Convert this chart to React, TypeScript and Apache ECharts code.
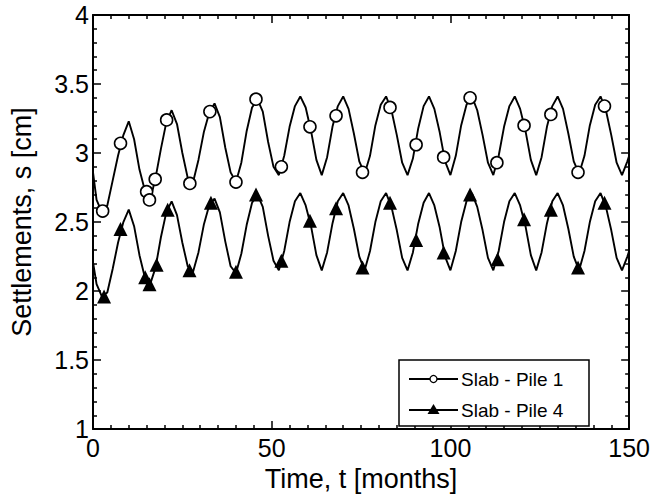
import React, { useEffect, useRef } from "react";
import * as echarts from "echarts";

const FONT = "'Liberation Sans', Arial, Helvetica, sans-serif";

const xTickValues = [0, 50, 100, 150];
const yRange = [1, 4];

const lineTime = [0, 1, 2.5, 4, 5.5, 7, 8.5, 10, 11.5, 13, 14.5, 16, 17.5, 19, 20.5, 22, 23.5, 25, 26.5, 28, 29.5, 31, 32.5, 34, 35.5, 37, 38.5, 40, 41.5, 43, 44.5, 46, 47.5, 49, 50.5, 52, 53.5, 55, 56.5, 58, 59.5, 61, 62.5, 64, 65.5, 67, 68.5, 70, 71.5, 73, 74.5, 76, 77.5, 79, 80.5, 82, 83.5, 85, 86.5, 88, 89.5, 91, 92.5, 94, 95.5, 97, 98.5, 100, 101.5, 103, 104.5, 106, 107.5, 109, 110.5, 112, 113.5, 115, 116.5, 118, 119.5, 121, 122.5, 124, 125.5, 127, 128.5, 130, 131.5, 133, 134.5, 136, 137.5, 139, 140.5, 142, 143.5, 145, 146.5, 148, 149.5, 150];

const pile1Line = [2.86, 2.66, 2.57, 2.62, 2.80, 2.98, 3.13, 3.23, 3.10, 2.88, 2.73, 2.66, 2.82, 3.03, 3.22, 3.31, 3.21, 3.00, 2.82, 2.79, 2.95, 3.15, 3.29, 3.36, 3.26, 3.04, 2.86, 2.79, 2.93, 3.16, 3.33, 3.39, 3.30, 3.08, 2.90, 2.84, 2.98, 3.19, 3.34, 3.41, 3.33, 3.16, 2.95, 2.84, 2.97, 3.19, 3.34, 3.41, 3.32, 3.14, 2.94, 2.85, 2.98, 3.20, 3.35, 3.41, 3.31, 3.13, 2.93, 2.84, 2.96, 3.18, 3.34, 3.41, 3.32, 3.15, 2.94, 2.84, 2.98, 3.20, 3.35, 3.41, 3.31, 3.13, 2.93, 2.84, 2.98, 3.19, 3.34, 3.41, 3.32, 3.16, 2.95, 2.84, 2.97, 3.19, 3.34, 3.41, 3.32, 3.14, 2.94, 2.85, 2.98, 3.20, 3.35, 3.41, 3.31, 3.13, 2.93, 2.84, 2.94, 2.98];

const pile4Line = [2.21, 2.05, 1.96, 1.99, 2.16, 2.35, 2.50, 2.59, 2.47, 2.26, 2.10, 2.05, 2.17, 2.39, 2.57, 2.65, 2.55, 2.35, 2.18, 2.14, 2.28, 2.48, 2.62, 2.67, 2.57, 2.36, 2.18, 2.13, 2.27, 2.48, 2.64, 2.70, 2.61, 2.40, 2.22, 2.15, 2.29, 2.50, 2.65, 2.71, 2.62, 2.47, 2.26, 2.15, 2.28, 2.49, 2.65, 2.71, 2.62, 2.45, 2.25, 2.15, 2.29, 2.50, 2.65, 2.71, 2.61, 2.44, 2.24, 2.15, 2.28, 2.49, 2.64, 2.71, 2.62, 2.46, 2.25, 2.15, 2.29, 2.50, 2.65, 2.71, 2.61, 2.44, 2.24, 2.15, 2.29, 2.50, 2.65, 2.71, 2.62, 2.47, 2.26, 2.15, 2.28, 2.49, 2.65, 2.71, 2.62, 2.45, 2.25, 2.15, 2.29, 2.50, 2.65, 2.71, 2.61, 2.44, 2.24, 2.15, 2.25, 2.29];

const pile1MarkT = [2.7, 7.7, 15.0, 15.8, 17.4, 20.6, 27.1, 32.7, 40, 45.6, 52.7, 60.7, 68, 75.4, 83.1, 90.4, 98.1, 105.5, 113, 120.6, 128.1, 135.7, 143.1];
const pile1MarkV = [2.58, 3.07, 2.72, 2.66, 2.81, 3.24, 2.78, 3.30, 2.79, 3.39, 2.90, 3.19, 3.27, 2.86, 3.33, 3.06, 2.97, 3.40, 2.93, 3.20, 3.28, 2.86, 3.34];

const pile4MarkT = [3.1, 7.7, 14.6, 15.8, 17.8, 20.9, 27, 33, 40, 45.6, 52.7, 60.7, 68, 75.4, 83.1, 90.4, 98.1, 105.5, 113.2, 120.6, 128.1, 135.7, 143.1];
const pile4MarkV = [1.96, 2.45, 2.10, 2.05, 2.19, 2.59, 2.15, 2.64, 2.14, 2.70, 2.22, 2.51, 2.60, 2.17, 2.64, 2.37, 2.28, 2.70, 2.23, 2.52, 2.59, 2.17, 2.64];

const legendNames = ["Slab - Pile 1", "Slab - Pile 4"];
const xTitle = "Time, t [months]";
const yTitle = "Settlements, s [cm]";

function zip(a: number[], b: number[]) {
  return a.map((v, i) => [v, b[i]]);
}

export default function App() {
  const ref = useRef<HTMLDivElement>(null);
  useEffect(() => {
    if (!ref.current) return;
    const chart = echarts.init(ref.current, null, { renderer: "svg" });
    const axisLine = { show: true, onZero: false, lineStyle: { color: "#000", width: 2 } };
    const tickStyle = { color: "#000", width: 1.5 };
    const xMin = xTickValues[0];
    const xMax = xTickValues[xTickValues.length - 1];
    const xInt = xTickValues[1] - xTickValues[0];
    const baseX = {
      type: "value",
      min: xMin,
      max: xMax,
      interval: xInt,
      axisLine,
      axisTick: { show: true, inside: true, length: 8, lineStyle: tickStyle },
      minorTick: { show: true, splitNumber: 10, length: 4, lineStyle: tickStyle },
      splitLine: { show: false },
    };
    const baseY = {
      type: "value",
      min: yRange[0],
      max: yRange[1],
      interval: 0.5,
      axisLine,
      axisTick: { show: true, inside: true, length: 8, lineStyle: tickStyle },
      minorTick: { show: true, splitNumber: 5, length: 4, lineStyle: tickStyle },
      splitLine: { show: false },
    };
    const lx = 399, ly = 360, lw = 190, lh = 66;
    const r1 = 379, r2 = 410;
    chart.setOption({
      animation: false,
      backgroundColor: "#fff",
      textStyle: { fontFamily: FONT },
      grid: { left: 86, right: 23, top: 15, bottom: 63, containLabel: false },
      xAxis: [
        {
          ...baseX,
          position: "bottom",
          axisLabel: { color: "#000", fontSize: 25, margin: 6, fontFamily: FONT },
          name: xTitle,
          nameLocation: "middle",
          nameGap: 35,
          nameTextStyle: { color: "#000", fontSize: 27, fontFamily: FONT },
        },
        { ...baseX, position: "top", axisLabel: { show: false } },
      ],
      yAxis: [
        {
          ...baseY,
          position: "left",
          axisLabel: { color: "#000", fontSize: 25, margin: 4, fontFamily: FONT },
          name: yTitle,
          nameLocation: "middle",
          nameGap: 58,
          nameTextStyle: { color: "#000", fontSize: 27, fontFamily: FONT },
        },
        { ...baseY, position: "right", axisLabel: { show: false } },
      ],
      series: [
        {
          type: "line",
          name: legendNames[0],
          data: zip(lineTime, pile1Line),
          showSymbol: false,
          lineStyle: { color: "#000", width: 1.9 },
          z: 2,
        },
        {
          type: "line",
          name: legendNames[1],
          data: zip(lineTime, pile4Line),
          showSymbol: false,
          lineStyle: { color: "#000", width: 1.9 },
          z: 2,
        },
        {
          type: "scatter",
          data: zip(pile1MarkT, pile1MarkV),
          symbol: "circle",
          symbolSize: 12,
          itemStyle: { color: "#fff", borderColor: "#000", borderWidth: 1.6, opacity: 1 },
          z: 3,
        },
        {
          type: "scatter",
          data: zip(pile4MarkT, pile4MarkV),
          symbol: "triangle",
          symbolSize: 14,
          itemStyle: { color: "#000", opacity: 1 },
          z: 3,
        },
      ],
      graphic: [
        {
          type: "rect",
          shape: { x: lx, y: ly, width: lw, height: lh },
          style: { fill: "#fff", stroke: "#000", lineWidth: 1.5 },
          z: 10,
        },
        {
          type: "line",
          shape: { x1: 409, y1: r1, x2: 458, y2: r1 },
          style: { stroke: "#000", lineWidth: 2 },
          z: 11,
        },
        {
          type: "circle",
          shape: { cx: 433.5, cy: r1, r: 3.5 },
          style: { fill: "#fff", stroke: "#000", lineWidth: 1.3 },
          z: 12,
        },
        {
          type: "text",
          x: 461,
          y: r1,
          style: { text: legendNames[0], fill: "#000", font: `19px ${FONT}`, verticalAlign: "middle", align: "left" },
          z: 12,
        },
        {
          type: "line",
          shape: { x1: 409, y1: r2, x2: 458, y2: r2 },
          style: { stroke: "#000", lineWidth: 2 },
          z: 11,
        },
        {
          type: "polygon",
          shape: { points: [[427.5, r2 + 4], [439.5, r2 + 4], [433.5, r2 - 6]] },
          style: { fill: "#000" },
          z: 12,
        },
        {
          type: "text",
          x: 461,
          y: r2,
          style: { text: legendNames[1], fill: "#000", font: `19px ${FONT}`, verticalAlign: "middle", align: "left" },
          z: 12,
        },
      ],
    });
    return () => chart.dispose();
  }, []);
  return (
    <div
      ref={ref}
      style={{ position: "fixed", left: 0, top: 0, width: 653, height: 497, background: "#fff" }}
    />
  );
}
